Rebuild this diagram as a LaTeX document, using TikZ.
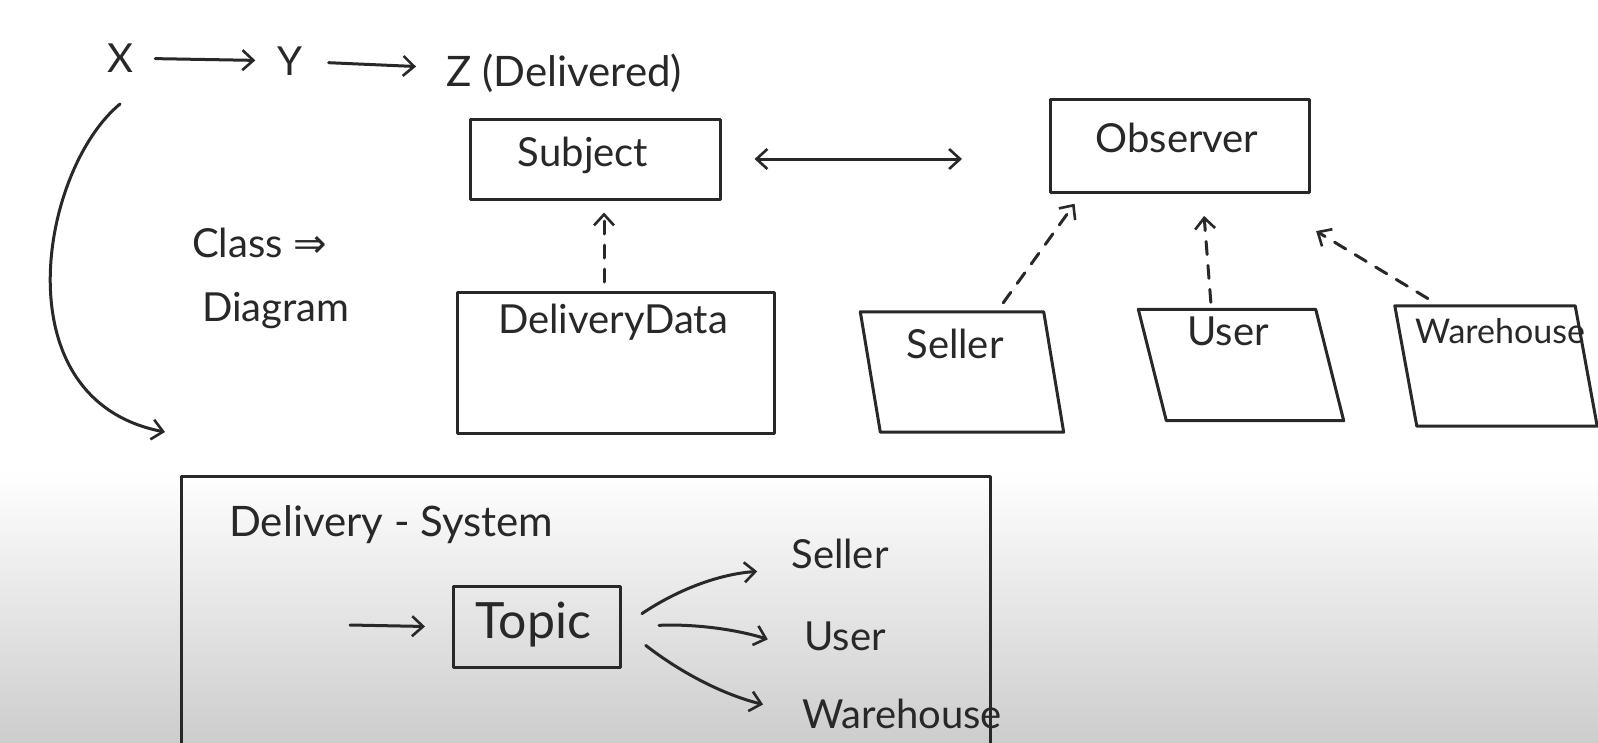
\documentclass[tikz,border=0pt]{standalone}
\usepackage{fontspec}
\setmainfont{Lato}
\newfontfamily\symbolfont{DejaVu Sans}
\usetikzlibrary{arrows.meta, positioning}
\definecolor{ink}{RGB}{40, 40, 40}
\definecolor{board}{RGB}{205, 205, 205}

\tikzset{
  inkline/.style={draw=ink, line width=3pt, line cap=round, line join=round},
  barb/.style={-{Straight Barb[length=11pt, width=20pt, line width=2.6pt]}},
  twobarb/.style={{Straight Barb[length=11pt, width=20pt, line width=2.6pt]}-{Straight Barb[length=11pt, width=20pt, line width=2.6pt]}},
  handdash/.style={dash pattern=on 13pt off 11pt},
  word/.style={font=\fontsize{40}{44}\selectfont, text=ink, inner sep=0pt},
  box/.style={inkline, inner sep=0pt},
  ghost/.style={inner sep=0pt},
}

% slanted outline round a named node: #1 node, #2 slant
\newcommand{\slantbox}[2]{%
  \draw[inkline] ([xshift=-#2]#1.north west) -- ([xshift=-#2]#1.north east)
    -- ([xshift=#2]#1.south east) -- ([xshift=#2]#1.south west) -- cycle;}

\begin{document}
\begin{tikzpicture}[x=1pt, y=-1pt]

  \useasboundingbox (0, 0) rectangle (1598, 742);
  \fill [white] (0, 0) rectangle (1598, 742);
  \shade [top color=white, bottom color=board] (0, 470) rectangle (1598, 742);

  % states
  \node [word] (x) at (120, 58) { X };
  \node [word] (y) at (290, 61) { Y };
  \node [word, anchor=west, font=\fontsize{42}{46}\selectfont] (z) at (446, 73) { Z (Delivered) };

  \draw [inkline, barb, shorten <=22pt, shorten >=22pt] (x) -- (y);
  \draw [inkline, barb, shorten <=26pt, shorten >=30pt] (y) -- (z);

  % class diagram
  \node [word, anchor=west] (class) at (192, 243) { Class {\symbolfont ⇒} };
  \node [word, anchor=west] (diagram) at (202, 311) { Diagram };

  \coordinate (curve start) at (120, 104);
  \coordinate (curve end) at (165, 432);
  \draw [inkline, barb] (curve start) .. controls (40, 170) and (0, 400) .. (curve end);

  \node [box, minimum width=250pt, minimum height=80pt] (subject) at (595, 159) {};
  \node [word] (subject text) at (583, 155) { Subject };

  \node [box, minimum width=259pt, minimum height=93pt] (observer) at (1180, 146) {};
  \node [word] (observer text) at (1177, 138) { Observer };

  \draw [inkline, twobarb, shorten <=33pt, shorten >=87pt] (subject.east) -- (observer.west |- subject.east);

  \node [box, minimum width=317pt, minimum height=141pt] (data) at (616, 363) {};
  \node [word] (data text) at (613, 322) { DeliveryData };

  \draw [inkline, handdash, barb, shorten <=9pt, shorten >=12pt]
    ([xshift=-12pt]data.north) -- ([xshift=9pt]subject.south);

  % observers
  \node [ghost, minimum width=183pt, minimum height=120pt] (seller) at (962, 372) {};
  \slantbox{seller}{10pt}
  \node [word] (seller text) at (955, 344) { Seller };

  \node [ghost, minimum width=177pt, minimum height=111pt] (user) at (1241, 365) {};
  \slantbox{user}{14pt}
  \node [word] (user text) at (1228, 331) { User };

  \node [ghost, minimum width=180pt, minimum height=120pt] (warehouse) at (1496, 366) {};
  \slantbox{warehouse}{11pt}
  \node [word, anchor=west, font=\fontsize{34}{38}\selectfont] (warehouse text) at (1415, 331) { Warehouse };

  \draw [inkline, handdash, barb, shorten <=11pt, shorten >=12pt] (seller.60) -- (observer.206);
  \draw [inkline, handdash, barb, shorten <=7pt, shorten >=22pt] (user.118) -- (observer.-65);
  \draw [inkline, handdash, barb, shorten <=14pt, shorten >=6pt]
    (warehouse.133) -- ([yshift=-34pt]observer.south east);

  % delivery system
  \node [box, minimum width=809pt, minimum height=300pt, anchor=north west] (system) at (180, 475) {};
  \node [word, anchor=west, font=\fontsize{42}{46}\selectfont] (system text) at (229, 525) { Delivery - System };

  \node [box, minimum width=167pt, minimum height=81pt] (topic) at (537, 627) {};
  \node [word, font=\fontsize{50}{54}\selectfont] (topic text) at (533, 625) { Topic };

  \coordinate (topic in) at (350, 625);
  \draw [inkline, barb, shorten >=27pt] (topic in) -- (topic.west);

  \node [word] (to seller) at (840, 554) { Seller };
  \node [word] (to user) at (845, 636) { User };
  \node [word] (to warehouse) at (902, 714) { Warehouse };

  \draw [inkline, barb, bend left=15, shorten <=24pt, shorten >=34pt] (topic.east) to (to seller.south west);
  \draw [inkline, barb, bend left=10, shorten <=37pt, shorten >=38pt] (topic.east) to (to user.south west);
  \draw [inkline, barb, bend right=12, shorten <=30pt, shorten >=40pt] (topic.east) to (to warehouse.west);

\end{tikzpicture}
\end{document}
